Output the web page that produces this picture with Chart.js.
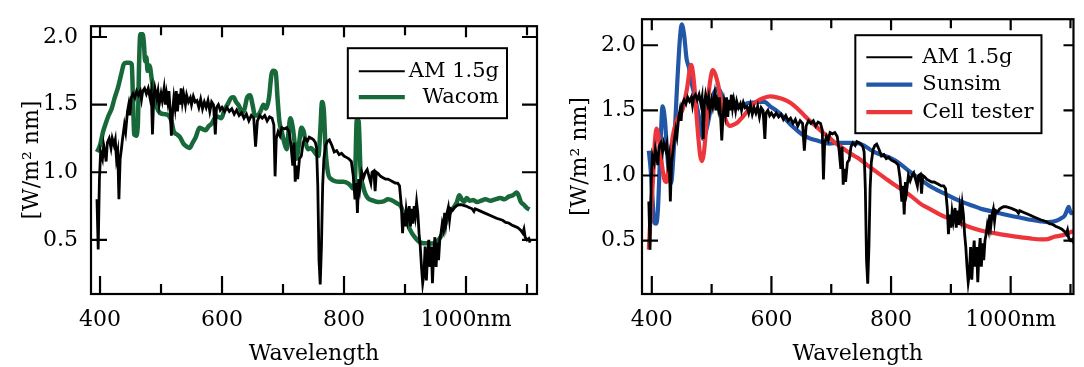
<!DOCTYPE html>
<html>
<head>
<meta charset="utf-8">
<script src="https://cdn.jsdelivr.net/npm/chart.js@4.4.1/dist/chart.umd.min.js"></script>
<style>
  html, body { margin: 0; padding: 0; background: #fff; }
  #wrap { position: relative; width: 1084px; height: 367px; }
  .box { position: absolute; top: 0; width: 542px; height: 367px; }
</style>
</head>
<body>
<div id="wrap">
  <div class="box" style="left:0"><canvas id="spec_left"></canvas></div>
  <div class="box" style="left:542px"><canvas id="spec_right"></canvas></div>
</div>
<script>
// AM 1.5g reference spectrum
var amWl = [395, 397, 399, 401, 404, 406, 408, 410, 412, 415, 418, 420, 423, 425, 427, 429, 431, 433, 435, 437, 440, 442, 445, 447, 449, 451, 454, 457, 460, 463, 466, 468, 470, 473, 476, 479, 482, 484, 486, 488, 490, 493, 495, 497, 500, 502, 505, 507, 509, 511, 513, 515, 517, 519, 521, 523, 525, 527, 529, 531, 533, 535, 537, 540, 542, 545, 548, 550, 553, 556, 559, 562, 565, 568, 571, 574, 577, 580, 583, 586, 589, 591, 594, 597, 600, 604, 608, 612, 616, 620, 624, 628, 632, 636, 640, 644, 648, 652, 655, 658, 662, 666, 670, 674, 678, 682, 685, 687, 689, 692, 695, 698, 702, 706, 710, 713, 716, 718, 720, 722, 724, 727, 730, 733, 736, 740, 743, 747, 750, 753, 755, 757, 759, 761, 763, 765, 767, 770, 773, 776, 780, 784, 788, 792, 796, 800, 804, 808, 812, 815, 818, 820, 822, 824, 826, 829, 832, 835, 838, 841, 844, 846, 849, 851, 853, 856, 860, 864, 868, 872, 876, 880, 884, 888, 891, 894, 896, 898, 900, 902, 904, 907, 909, 911, 913, 915, 917, 919, 921, 923, 925, 927, 929, 931, 933, 935, 937, 939, 941, 943, 945, 947, 949, 951, 953, 955, 957, 959, 961, 963, 965, 967, 969, 971, 973, 975, 978, 981, 984, 988, 992, 996, 1000, 1005, 1010, 1013, 1015, 1020, 1030, 1040, 1050, 1060, 1065, 1070, 1075, 1080, 1085, 1090, 1093, 1095, 1097, 1100, 1103, 1105];
var amVal = [0.80, 0.43, 0.95, 1.15, 1.10, 1.20, 1.15, 1.08, 1.22, 1.25, 1.18, 1.25, 1.20, 1.24, 1.10, 1.15, 0.80, 1.10, 1.17, 1.25, 1.35, 1.30, 1.45, 1.50, 1.42, 1.55, 1.58, 1.55, 1.60, 1.57, 1.60, 1.54, 1.60, 1.62, 1.58, 1.62, 1.55, 1.60, 1.28, 1.55, 1.62, 1.55, 1.60, 1.50, 1.58, 1.53, 1.62, 1.50, 1.58, 1.52, 1.60, 1.45, 1.27, 1.45, 1.55, 1.48, 1.60, 1.45, 1.58, 1.50, 1.62, 1.52, 1.58, 1.50, 1.57, 1.52, 1.55, 1.50, 1.56, 1.52, 1.53, 1.48, 1.54, 1.47, 1.52, 1.48, 1.53, 1.45, 1.52, 1.50, 1.28, 1.48, 1.50, 1.46, 1.48, 1.45, 1.48, 1.45, 1.47, 1.43, 1.46, 1.42, 1.44, 1.40, 1.43, 1.38, 1.42, 1.40, 1.19, 1.38, 1.42, 1.40, 1.42, 1.38, 1.41, 1.40, 1.35, 0.97, 1.25, 1.30, 1.27, 1.33, 1.32, 1.33, 1.30, 1.20, 1.05, 1.22, 0.93, 1.05, 0.95, 1.10, 1.12, 1.22, 1.25, 1.23, 1.26, 1.25, 1.24, 1.22, 1.18, 0.90, 0.35, 0.17, 0.45, 0.90, 1.10, 1.20, 1.23, 1.24, 1.20, 1.15, 1.16, 1.13, 1.14, 1.12, 1.11, 1.10, 1.08, 0.98, 0.80, 0.92, 0.70, 0.95, 0.88, 1.00, 0.96, 1.00, 1.02, 0.97, 0.92, 1.00, 1.01, 0.86, 1.00, 0.99, 0.97, 0.96, 0.95, 0.95, 0.94, 0.93, 0.92, 0.92, 0.90, 0.75, 0.55, 0.70, 0.60, 0.72, 0.65, 0.75, 0.60, 0.73, 0.62, 0.75, 0.68, 0.78, 0.70, 0.55, 0.45, 0.30, 0.18, 0.25, 0.45, 0.20, 0.38, 0.50, 0.30, 0.45, 0.18, 0.40, 0.52, 0.30, 0.48, 0.35, 0.50, 0.55, 0.62, 0.58, 0.70, 0.62, 0.70, 0.74, 0.65, 0.73, 0.72, 0.74, 0.75, 0.76, 0.76, 0.755, 0.75, 0.74, 0.73, 0.71, 0.73, 0.72, 0.70, 0.68, 0.66, 0.645, 0.63, 0.625, 0.61, 0.60, 0.59, 0.57, 0.55, 0.58, 0.52, 0.50, 0.51, 0.48];

// Wacom simulator
var wacWl = [395, 400, 405, 410, 414, 419, 424, 429, 435, 439, 443, 448, 452, 454, 456, 459, 462, 464, 466, 470, 472, 474, 476, 478, 481, 485, 489, 493, 498, 505, 512, 517, 521, 526, 531, 537, 542, 547, 552, 557, 563, 568, 573, 578, 583, 588, 593, 599, 604, 610, 615, 619, 623, 628, 633, 637, 641, 646, 650, 654, 658, 663, 668, 672, 677, 681, 684, 688, 691, 694, 698, 702, 706, 709, 712, 716, 719, 722, 726, 730, 734, 737, 741, 746, 750, 755, 758, 761, 764, 767, 770, 774, 779, 785, 792, 799, 806, 811, 815, 818, 821, 824, 827, 831, 835, 840, 848, 856, 865, 872, 880, 887, 893, 899, 905, 910, 916, 922, 928, 935, 943, 950, 955, 960, 965, 970, 976, 981, 985, 989, 993, 997, 1001, 1006, 1012, 1018, 1025, 1032, 1040, 1048, 1056, 1063, 1070, 1077, 1083, 1086, 1090, 1095, 1100, 1104];
var wacVal = [1.15, 1.20, 1.30, 1.37, 1.42, 1.47, 1.55, 1.62, 1.73, 1.80, 1.81, 1.81, 1.80, 1.55, 1.28, 1.27, 1.35, 1.80, 2.02, 2.02, 1.95, 1.82, 1.85, 1.75, 1.79, 1.68, 1.55, 1.48, 1.44, 1.43, 1.42, 1.38, 1.30, 1.28, 1.26, 1.21, 1.19, 1.18, 1.22, 1.26, 1.33, 1.32, 1.31, 1.34, 1.36, 1.40, 1.41, 1.40, 1.46, 1.51, 1.55, 1.555, 1.52, 1.49, 1.44, 1.47, 1.55, 1.57, 1.50, 1.42, 1.42, 1.45, 1.50, 1.47, 1.55, 1.72, 1.75, 1.74, 1.55, 1.38, 1.30, 1.22, 1.17, 1.30, 1.40, 1.33, 1.22, 1.10, 1.20, 1.33, 1.30, 1.22, 1.17, 1.18, 1.16, 1.13, 1.12, 1.30, 1.52, 1.45, 1.15, 0.99, 0.95, 0.935, 0.93, 0.93, 0.92, 0.90, 0.88, 0.95, 1.39, 1.38, 1.02, 0.90, 0.84, 0.805, 0.79, 0.78, 0.785, 0.80, 0.79, 0.77, 0.75, 0.68, 0.61, 0.56, 0.52, 0.49, 0.477, 0.475, 0.473, 0.48, 0.50, 0.535, 0.60, 0.675, 0.72, 0.747, 0.78, 0.83, 0.80, 0.78, 0.81, 0.79, 0.795, 0.78, 0.79, 0.80, 0.79, 0.80, 0.81, 0.80, 0.82, 0.83, 0.85, 0.83, 0.78, 0.76, 0.735, 0.725];

// Sunsim
var sunWl = [395, 398, 401, 404, 407, 410, 414, 418, 422, 426, 429, 432, 437, 443, 447, 450, 454, 458, 462, 466, 470, 474, 478, 482, 486, 490, 495, 499, 503, 507, 511, 515, 519, 525, 530, 537, 544, 552, 560, 570, 580, 588, 598, 609, 620, 631, 642, 653, 664, 675, 686, 697, 710, 725, 740, 755, 768, 780, 790, 801, 812, 823, 834, 845, 855, 866, 878, 890, 898, 910, 923, 937, 950, 963, 975, 990, 1005, 1018, 1033, 1048, 1062, 1075, 1084, 1090, 1094, 1097, 1099, 1102, 1105];
var sunVal = [1.19, 1.05, 0.84, 0.64, 0.63, 0.72, 1.17, 1.53, 1.42, 1.15, 1.00, 0.94, 1.22, 1.75, 2.05, 2.16, 2.08, 1.90, 1.83, 1.72, 1.645, 1.56, 1.47, 1.36, 1.28, 1.33, 1.43, 1.53, 1.62, 1.66, 1.67, 1.64, 1.595, 1.55, 1.53, 1.52, 1.52, 1.54, 1.555, 1.56, 1.565, 1.565, 1.53, 1.495, 1.45, 1.395, 1.35, 1.31, 1.285, 1.27, 1.255, 1.245, 1.25, 1.25, 1.25, 1.23, 1.19, 1.165, 1.15, 1.13, 1.10, 1.06, 1.02, 0.98, 0.95, 0.915, 0.885, 0.86, 0.842, 0.815, 0.79, 0.767, 0.745, 0.73, 0.717, 0.70, 0.685, 0.674, 0.66, 0.65, 0.642, 0.65, 0.67, 0.69, 0.73, 0.76, 0.73, 0.71, 0.72];

// Cell tester
var cellWl = [395, 398, 402, 405, 408, 411, 414, 418, 421, 424, 427, 430, 435, 440, 445, 451, 455, 459, 463, 466, 469, 472, 475, 478, 481, 484, 487, 490, 494, 498, 502, 506, 511, 515, 519, 524, 530, 537, 544, 552, 560, 568, 576, 587, 598, 609, 620, 631, 642, 653, 664, 675, 686, 697, 705, 713, 725, 735, 746, 760, 775, 790, 805, 820, 834, 850, 866, 882, 898, 915, 931, 950, 975, 995, 1018, 1035, 1051, 1062, 1073, 1086, 1095, 1100, 1105];
var cellVal = [0.43, 0.70, 0.97, 1.25, 1.36, 1.31, 1.20, 1.045, 0.97, 0.95, 1.02, 1.12, 1.30, 1.40, 1.46, 1.50, 1.58, 1.67, 1.80, 1.85, 1.78, 1.64, 1.45, 1.28, 1.15, 1.11, 1.17, 1.32, 1.58, 1.74, 1.81, 1.78, 1.695, 1.59, 1.495, 1.42, 1.38, 1.39, 1.41, 1.45, 1.495, 1.54, 1.57, 1.595, 1.607, 1.60, 1.585, 1.56, 1.52, 1.47, 1.42, 1.375, 1.33, 1.29, 1.257, 1.23, 1.19, 1.16, 1.13, 1.08, 1.03, 0.98, 0.93, 0.885, 0.84, 0.78, 0.74, 0.70, 0.667, 0.633, 0.605, 0.578, 0.555, 0.54, 0.525, 0.515, 0.51, 0.512, 0.53, 0.54, 0.555, 0.565, 0.57];

var xTickVals = [400, 500, 600, 700, 800, 900, 1000, 1100];
var xTickText = ['400', '', '600', '', '800', '', '1000nm', ''];
var yTickVals = [0.5, 1.0, 1.5, 2.0];
var yTickText = ['0.5', '1.0', '1.5', '2.0'];

const pts = (wl, val) => wl.map((w, i) => ({ x: w, y: val[i] }));

Chart.defaults.font.family = "'DejaVu Serif', serif";
Chart.defaults.color = '#000';

// box frame with inward ticks on all four sides
const frameTicks = {
    id: 'frameTicks',
    afterDatasetsDraw(chart, args, o) {
        const { ctx, chartArea: a } = chart;
        const x = chart.scales.x, y = chart.scales.y;
        ctx.save();
        ctx.strokeStyle = '#000';
        ctx.lineWidth = 2.2;
        ctx.beginPath();
        x.ticks.forEach(t => {
            const px = x.getPixelForValue(t.value);
            const major = t.value % 200 === 0;
            ctx.moveTo(px, a.bottom);
            ctx.lineTo(px, a.bottom - (major ? o.xBotMajor : o.xBotMinor));
            ctx.moveTo(px, a.top);
            ctx.lineTo(px, a.top + (major ? o.xTopMajor : o.xTopMinor));
        });
        y.ticks.forEach(t => {
            const py = y.getPixelForValue(t.value);
            ctx.moveTo(a.left, py);
            ctx.lineTo(a.left + o.yLeft, py);
            ctx.moveTo(a.right, py);
            ctx.lineTo(a.right - o.yRight, py);
        });
        ctx.stroke();
        ctx.strokeRect(a.left, a.top, a.right - a.left, a.bottom - a.top);
        ctx.restore();
    }
};

// legend inside the plot, matplotlib style
const boxLegend = {
    id: 'boxLegend',
    afterDraw(chart, args, o) {
        const { ctx, chartArea: a } = chart;
        const sets = chart.data.datasets;
        ctx.save();
        ctx.font = o.font;
        const textW = Math.max(...sets.map(d => ctx.measureText(d.label).width));
        const w = o.padL + o.lineLen + o.gap + textW + o.padR;
        const h = o.padT + o.rowH * (sets.length - 1) + o.padB;
        const x0 = a.right - o.right - w, y0 = a.top + o.top;
        ctx.fillStyle = '#fff';
        ctx.fillRect(x0, y0, w, h);
        ctx.lineWidth = 2;
        ctx.strokeStyle = '#000';
        ctx.strokeRect(x0, y0, w, h);
        sets.forEach((d, i) => {
            const cy = y0 + o.padT + i * o.rowH;
            ctx.beginPath();
            ctx.strokeStyle = d.borderColor;
            ctx.lineWidth = d.keyWidth;
            ctx.moveTo(x0 + o.padL, cy);
            ctx.lineTo(x0 + o.padL + o.lineLen, cy);
            ctx.stroke();
            ctx.fillStyle = '#000';
            ctx.textBaseline = 'middle';
            if (o.align === 'right') {
                ctx.textAlign = 'right';
                ctx.fillText(d.label, x0 + w - o.padR, cy);
            } else {
                ctx.textAlign = 'left';
                ctx.fillText(d.label, x0 + o.padL + o.lineLen + o.gap, cy);
            }
        });
        ctx.restore();
    }
};

function makeOptions(p) {
    return {
        responsive: true,
        maintainAspectRatio: false,
        animation: false,
        devicePixelRatio: 1,
        layout: { padding: { top: 12, left: 0, right: p.padRight, bottom: 0 } },
        elements: { point: { radius: 0 } },
        plugins: {
            legend: { display: false },
            tooltip: { enabled: false },
            frameTicks: p.ticks,
            boxLegend: p.legend
        },
        scales: {
            x: {
                type: 'linear',
                min: p.xMin, max: p.xMax,
                grid: { display: false, drawTicks: false },
                border: { display: false },
                afterBuildTicks: s => { s.ticks = xTickVals.map(v => ({ value: v })); },
                afterFit: s => { s.height = 73; },
                ticks: {
                    autoSkip: false, maxRotation: 0, padding: 13.5,
                    font: { size: 22 },
                    callback: (v, i) => xTickText[i]
                },
                title: { display: true, text: 'Wavelength', font: { size: 22 }, padding: { top: 1.5, bottom: 0 } }
            },
            y: {
                min: p.yMin, max: p.yMax,
                grid: { display: false, drawTicks: false },
                border: { display: false },
                afterBuildTicks: s => { s.ticks = yTickVals.map(v => ({ value: v })); },
                afterFit: s => { s.width = p.yWidth; },
                ticks: {
                    padding: p.yPad,
                    font: { size: 22 },
                    callback: (v, i) => yTickText[i]
                },
                title: { display: true, text: '[W/m² nm]', font: { size: 22 }, padding: { top: p.yTitlePad, bottom: 0 } }
            }
        }
    };
}

const spec_left = new Chart('spec_left', {
    type: 'line',
    data: {
        datasets: [{
            label: 'AM 1.5g',
            data: pts(amWl, amVal),
            borderColor: '#000000',
            borderWidth: 2.8,
            keyWidth: 2,
            tension: 0
        }, {
            label: 'Wacom',
            data: pts(wacWl, wacVal),
            borderColor: '#17693a',
            borderWidth: 4.5,
            keyWidth: 4.2,
            cubicInterpolationMode: 'monotone'
        }]
    },
    plugins: [frameTicks, boxLegend],
    options: makeOptions({
        padRight: 5, xMin: 385.2, xMax: 1116.4, yMin: 0.1, yMax: 2.08,
        yWidth: 91, yPad: 13, yTitlePad: 19.5,
        ticks: { xBotMajor: 18, xBotMinor: 10, xTopMajor: 11, xTopMinor: 9, yLeft: 16, yRight: 15 },
        legend: { font: "21px 'DejaVu Serif'", right: 30, top: 22, padL: 11, lineLen: 46, gap: 4, padR: 8, padT: 23, rowH: 26, padB: 21, align: 'right' }
    })
});

const spec_right = new Chart('spec_right', {
    type: 'line',
    data: {
        datasets: [{
            label: 'AM 1.5g',
            data: pts(amWl, amVal),
            borderColor: '#000000',
            borderWidth: 2.8,
            keyWidth: 2,
            tension: 0,
            order: 0
        }, {
            label: 'Sunsim',
            data: pts(sunWl, sunVal),
            borderColor: '#2257a8',
            borderWidth: 4.2,
            keyWidth: 4.2,
            cubicInterpolationMode: 'monotone',
            order: 2
        }, {
            label: 'Cell tester',
            data: pts(cellWl, cellVal),
            borderColor: '#ec363c',
            borderWidth: 4.2,
            keyWidth: 4.2,
            cubicInterpolationMode: 'monotone',
            order: 1
        }]
    },
    plugins: [frameTicks, boxLegend],
    options: makeOptions({
        padRight: 2, xMin: 383.6, xMax: 1105, yMin: 0.09, yMax: 2.2,
        yWidth: 100, yPad: 6, yTitlePad: 25.5,
        ticks: { xBotMajor: 18, xBotMinor: 10, xTopMajor: 11, xTopMinor: 9, yLeft: 16, yRight: 10 },
        legend: { font: "21px 'DejaVu Serif'", right: 32, top: 16, padL: 11, lineLen: 46, gap: 10, padR: 8, padT: 22, rowH: 27.5, padB: 21, align: 'left' }
    })
});
</script>
</body>
</html>
